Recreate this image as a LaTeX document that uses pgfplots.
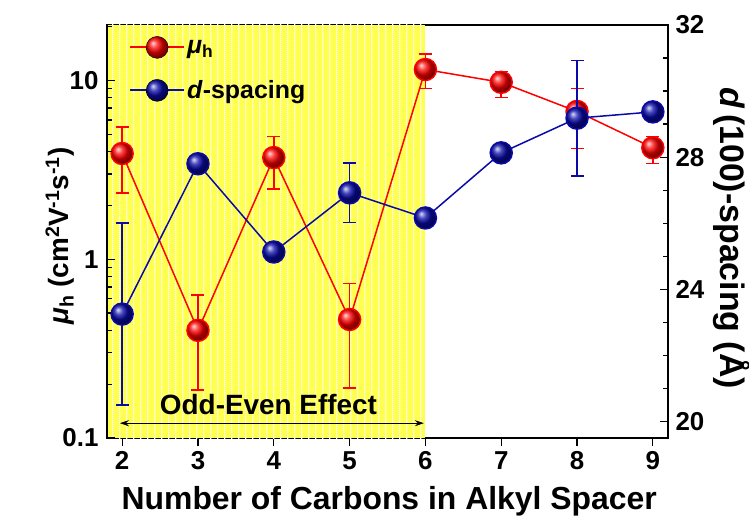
\documentclass[border=0pt]{standalone}
\usepackage{pgfplots}
\pgfplotsset{compat=1.18}
\usepackage{pgfplotstable}
\usepackage{fontspec}
\setmainfont{Liberation Sans}
\usetikzlibrary{patterns.meta, arrows.meta}

\definecolor{myyellow}{RGB}{255,255,80}
\definecolor{myblue}{RGB}{10,10,170}
\definecolor{myred}{RGB}{255,0,0}

\tikzdeclarepattern{
  name=vstripes,
  type=uncolored,
  bottom left={(0bp,0bp)},
  top right={(7bp,2bp)},
  tile size={(7bp,2bp)},
  code={\fill (0bp,-0.2bp) rectangle (1.7bp,2.2bp);}
}

\pgfplotstableread{
x y ep em
2 3.9 1.6 1.55
3 0.40 0.23 0.214
4 3.7 1.15 1.23
5 0.46 0.27 0.27
6 11.5 2.5 2.5
7 9.75 1.45 1.75
8 6.7 2.3 2.55
9 4.2 0.65 0.78
}\mudata

\pgfplotstableread{
x y e
2 23.25 2.75
3 27.8 0.1
4 25.13 0.1
5 26.92 0.9
6 26.16 0.2
7 28.13 0.1
8 29.18 1.75
9 29.37 0.1
}\ddata

\newcommand{\tickfont}{\fontsize{26}{26}\selectfont\bfseries}
\newcommand{\labfont}{\fontsize{32}{32}\selectfont\bfseries}

\begin{document}
\begin{tikzpicture}
\begin{axis}[
  at={(107bp,81bp)}, anchor=south west,
  scale only axis, width=561bp, height=413bp,
  xmin=1.8, xmax=9.2,
  ymode=log, ymin=0.1, ymax=20.4,
  xtick={2,3,4,5,6,7,8,9},
  xticklabels={2,3,4,5,6,7,8,9},
  ytick=\empty, minor ytick={},
  xtick pos=bottom, ytick pos=left,
  xtick align=outside,
  major tick length=8bp, minor tick length=5bp,
  every tick/.style={black, line width=1.3bp},
  axis line style={line width=1.6bp},
  tick label style={font=\tickfont},
  xticklabel style={yshift=-2bp},
  /pgf/number format/assume math mode=true,
  xlabel={Number of Carbons in Alkyl Spacer},
  xlabel style={font=\labfont, at={(axis description cs:0.503,-0.172)}, anchor=base},
  ylabel={\textit{μ}\textsubscript{h} (cm\textsuperscript{2}V\textsuperscript{-1}s\textsuperscript{-1})},
  ylabel style={font=\fontsize{28}{28}\selectfont\bfseries, at={(axis description cs:-0.0695,0.489)}, anchor=base},
  legend style={at={(0,1)}, anchor=north west, xshift=19bp, yshift=-9bp,
    draw=none, fill=none, font=\fontsize{25}{25}\selectfont\bfseries,
    row sep=20bp},
  legend cell align=left,
]
\fill[myyellow] (axis cs:1.8,0.1) rectangle (axis cs:6,20.4);
\fill[pattern=vstripes, pattern color=white] (axis cs:1.8,0.1) rectangle (axis cs:6,20.4);
\addlegendimage{legend image code/.code={%
  \draw[draw=myred, line width=2bp] (0bp,0bp) -- (54bp,0bp);
  \shade[ball color=myred] (27bp,0bp) circle[radius=11bp];}}
\addlegendentry{\textit{μ}\textsubscript{h}}
\addlegendimage{legend image code/.code={%
  \draw[draw=myblue, line width=2bp] (0bp,0bp) -- (54bp,0bp);
  \shade[ball color=myblue] (27bp,0bp) circle[radius=11bp];}}
\addlegendentry{\textit{d}-spacing}
\addplot[forget plot, myred, line width=1.5bp, mark=ball, mark size=11bp, mark options={ball color=myred},
  error bars/.cd, y dir=both, y explicit,
  error bar style={line width=1.5bp, myred},
  error mark options={rotate=90, mark size=6.5bp, line width=1.5bp, myred}]
  table[x=x, y=y, y error plus=ep, y error minus=em] {\mudata};
\draw[{Stealth[length=9bp,width=6bp]}-{Stealth[length=9bp,width=6bp]}, line width=1.3bp] (axis cs:1.97,0.121) -- (axis cs:5.98,0.121);
\node[font=\fontsize{28}{28}\selectfont\bfseries] at (axis cs:3.93,0.153) {Odd-Even Effect};
\end{axis}
% left axis ticks in log10 units, drawn on top of the shaded band
\begin{axis}[
  at={(107bp,81bp)}, anchor=south west,
  scale only axis, width=561bp, height=413bp,
  xmin=1.8, xmax=9.2,
  ymin=-1, ymax=1.3096,
  axis x line=none, axis y line*=left,
  y axis line style={-, line width=1.6bp},
  ytick={-1,0,1}, yticklabels={0.1,1,10},
  minor ytick={-0.69897,-0.52288,-0.39794,-0.30103,-0.22185,-0.15490,-0.09691,-0.04576,
    0.30103,0.47712,0.60206,0.69897,0.77815,0.84510,0.90309,0.95424,1.30103},
  tick align=inside,
  major tick length=8bp, minor tick length=5bp,
  every tick/.style={black, line width=1.3bp},
  tick label style={font=\tickfont},
  yticklabel style={xshift=-5bp},
  /pgf/number format/assume math mode=true,
]
\end{axis}
\begin{axis}[
  at={(107bp,81bp)}, anchor=south west,
  scale only axis, width=561bp, height=413bp,
  xmin=1.8, xmax=9.2,
  ymin=19.5, ymax=32,
  axis x line=none, axis y line*=right,
  y axis line style={-, line width=1.6bp},
  ytick={20,24,28,32}, yticklabels={20,24,28,32},
  minor y tick num=3,
  tick align=inside,
  major tick length=8bp, minor tick length=5bp,
  every tick/.style={black, line width=1.3bp},
  tick label style={font=\tickfont},
  yticklabel style={xshift=4bp},
  /pgf/number format/assume math mode=true,
  ylabel={\textit{d}\,(100)-spacing (Å)},
  ylabel style={font=\fontsize{34}{34}\selectfont\bfseries, at={(axis description cs:1.0927,0.484)}, anchor=base, rotate=180},
]
\addplot[myblue, line width=1.5bp, mark=ball, mark size=11bp, mark options={ball color=myblue},
  error bars/.cd, y dir=both, y explicit,
  error bar style={line width=1.5bp, myblue},
  error mark options={rotate=90, mark size=6.5bp, line width=1.5bp, myblue}]
  table[x=x, y=y, y error=e] {\ddata};
\end{axis}
\pgfresetboundingbox
\path (0,0) rectangle (749bp,519bp);
\end{tikzpicture}
\end{document}
